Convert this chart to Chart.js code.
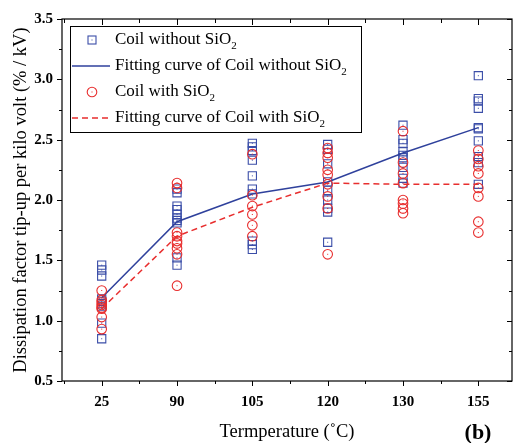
<!DOCTYPE html>
<html>
<head>
<meta charset="utf-8">
<script src="https://cdn.jsdelivr.net/npm/chart.js@4.4.0/dist/chart.umd.min.js"></script>
<style>
  html, body { margin: 0; padding: 0; background: #fff; overflow: hidden; }
  #wrap { width: 513px; height: 443px; }
</style>
</head>
<body>
<div id="wrap"><canvas id="chart"></canvas></div>
<script>
// categories (x positions 1..6)
const temps = ['25', '90', '105', '120', '130', '155'];

// measured points, one list per temperature
const withoutSiO2 = [
  [1.46, 1.42, 1.37, 1.18, 1.16, 1.14, 1.12, 0.98, 0.85],
  [2.09, 2.06, 1.95, 1.92, 1.88, 1.85, 1.83, 1.81, 1.52, 1.46],
  [2.47, 2.44, 2.41, 2.33, 2.20, 2.09, 2.05, 1.66, 1.63, 1.59],
  [2.46, 2.42, 2.30, 2.15, 2.08, 2.00, 1.93, 1.90, 1.65],
  [2.62, 2.50, 2.47, 2.40, 2.37, 2.35, 2.27, 2.18, 2.14],
  [3.03, 2.84, 2.82, 2.76, 2.60, 2.59, 2.49, 2.36, 2.31, 2.13]
];
const withSiO2 = [
  [1.25, 1.17, 1.15, 1.13, 1.11, 1.10, 1.03, 0.93],
  [2.14, 2.10, 1.73, 1.70, 1.66, 1.64, 1.60, 1.55, 1.29],
  [2.38, 2.04, 1.95, 1.88, 1.79, 1.70],
  [2.43, 2.39, 2.35, 2.25, 2.21, 2.13, 2.03, 1.93, 1.55],
  [2.57, 2.31, 2.22, 2.14, 2.00, 1.97, 1.93, 1.89],
  [2.41, 2.34, 2.28, 2.22, 2.10, 2.03, 1.82, 1.73]
];

// fitting curves
const fitWithout = [1.19, 1.82, 2.05, 2.15, 2.39, 2.60];
const fitWith = [1.10, 1.70, 1.94, 2.14, 2.13, 2.13];

const yTicks = [0.5, 1.0, 1.5, 2.0, 2.5, 3.0, 3.5];

const BLUE = '#3b4ea8';
const BLUE_LINE = '#2f419c';
const RED = '#e82e2e';
const SERIF = '"Liberation Serif", "Times New Roman", serif';

const toPoints = groups => groups.flatMap((vals, i) => vals.map(v => ({ x: i + 1, y: v })));
const toLine = vals => vals.map((v, i) => ({ x: i + 1, y: v }));

function drawSquare(ctx, x, y, color) {
  ctx.strokeStyle = color; ctx.lineWidth = 1.1;
  ctx.strokeRect(x - 4, y - 4, 8, 8);
  ctx.fillStyle = color; ctx.fillRect(x - 0.5, y - 0.5, 1, 1);
}
function drawCircle(ctx, x, y, color) {
  ctx.strokeStyle = color; ctx.lineWidth = 1.1;
  ctx.beginPath(); ctx.arc(x, y, 4.8, 0, Math.PI * 2); ctx.stroke();
  ctx.fillStyle = color; ctx.fillRect(x - 0.5, y - 0.5, 1, 1);
}

// centre dots of the open markers
const dotPlugin = {
  id: 'dots',
  afterDatasetsDraw(chart) {
    const ctx = chart.ctx;
    ctx.save();
    chart.data.datasets.forEach((ds, i) => {
      if (ds.type !== 'scatter') return;
      ctx.fillStyle = ds.borderColor;
      chart.getDatasetMeta(i).data.forEach(p => ctx.fillRect(p.x - 0.5, p.y - 0.5, 1, 1));
    });
    ctx.restore();
  }
};

// frame, minor ticks, legend box and "(b)"
const decorPlugin = {
  id: 'decor',
  afterDraw(chart) {
    const ctx = chart.ctx;
    const { left, right, top, bottom } = chart.chartArea;
    const xs = chart.scales.x, ys = chart.scales.y;
    ctx.save();
    ctx.strokeStyle = '#000';
    ctx.lineWidth = 1.2;
    ctx.strokeRect(left, top, right - left, bottom - top);

    ctx.lineWidth = 1;
    ctx.beginPath();
    for (let v = 0.5; v <= 6.5; v += 0.5) {
      const px = Math.round(xs.getPixelForValue(v)) + 0.5;
      if (px < left || px > right) continue;
      const major = Number.isInteger(v);
      ctx.moveTo(px, bottom); ctx.lineTo(px, bottom + (major ? 5 : 3));
      ctx.moveTo(px, top); ctx.lineTo(px, top + (major ? 6 : 4));
    }
    for (let v = 0.5; v <= 3.5001; v += 0.25) {
      const py = Math.round(ys.getPixelForValue(v)) + 0.5;
      const major = Math.abs(v * 2 - Math.round(v * 2)) < 1e-6;
      const len = major ? 5 : 3;
      ctx.moveTo(left, py); ctx.lineTo(left - len, py);
      ctx.moveTo(right, py); ctx.lineTo(right - len, py);
    }
    ctx.stroke();

    // legend
    const bx = 70.5, by = 26.5, bw = 291, bh = 106;
    ctx.fillStyle = '#fff';
    ctx.fillRect(bx, by, bw, bh);
    ctx.strokeStyle = '#000';
    ctx.lineWidth = 1;
    ctx.strokeRect(bx, by, bw, bh);

    const rows = chart.data.datasets.map(ds => ({ label: ds.label.replace(/2$/, ''), kind: ds.legendKind }));
    rows.forEach((r, i) => {
      const cy = 40 + i * 26;
      if (r.kind === 'square') drawSquare(ctx, 92, cy, BLUE);
      if (r.kind === 'circle') drawCircle(ctx, 92, cy, RED);
      if (r.kind === 'solid' || r.kind === 'dash') {
        ctx.beginPath();
        ctx.strokeStyle = r.kind === 'solid' ? BLUE_LINE : RED;
        ctx.lineWidth = 1.5;
        ctx.setLineDash(r.kind === 'dash' ? [6, 4] : []);
        ctx.moveTo(72, cy); ctx.lineTo(110, cy);
        ctx.stroke();
        ctx.setLineDash([]);
      }
      ctx.fillStyle = '#000';
      ctx.textBaseline = 'middle';
      ctx.textAlign = 'left';
      ctx.font = '17px ' + SERIF;
      ctx.fillText(r.label, 115, cy);
      const w = ctx.measureText(r.label).width;
      ctx.font = '11px ' + SERIF;
      ctx.fillText('2', 115 + w, cy + 6);
    });

    ctx.font = 'bold 22px ' + SERIF;
    ctx.textAlign = 'center';
    ctx.textBaseline = 'middle';
    ctx.fillStyle = '#000';
    ctx.fillText('(b)', 478, 433);
    ctx.restore();
  }
};

new Chart(document.getElementById('chart'), {
  type: 'scatter',
  data: {
    datasets: [
      {
        type: 'scatter', label: 'Coil without SiO2', legendKind: 'square', data: toPoints(withoutSiO2),
        pointStyle: 'rect', pointRadius: 5.8, borderColor: BLUE, backgroundColor: 'rgba(0,0,0,0)',
        borderWidth: 1.1, order: 4
      },
      {
        type: 'line', label: 'Fitting curve of Coil without SiO2', legendKind: 'solid', data: toLine(fitWithout),
        borderColor: BLUE_LINE, borderWidth: 1.5, pointRadius: 0, fill: false, tension: 0, order: 3
      },
      {
        type: 'scatter', label: 'Coil with SiO2', legendKind: 'circle', data: toPoints(withSiO2),
        pointStyle: 'circle', pointRadius: 4.8, borderColor: RED, backgroundColor: 'rgba(0,0,0,0)',
        borderWidth: 1.1, order: 2
      },
      {
        type: 'line', label: 'Fitting curve of Coil with SiO2', legendKind: 'dash', data: toLine(fitWith),
        borderColor: RED, borderWidth: 1.5, borderDash: [6, 4], pointRadius: 0, fill: false, tension: 0, order: 1
      }
    ]
  },
  options: {
    responsive: true,
    maintainAspectRatio: false,
    animation: false,
    layout: { autoPadding: false, padding: { top: 19, right: 1, left: 0, bottom: 0 } },
    plugins: { legend: { display: false }, tooltip: { enabled: false } },
    scales: {
      x: {
        type: 'linear', min: 0.473, max: 6.447,
        afterBuildTicks: s => { s.ticks = temps.map((t, i) => ({ value: i + 1 })); },
        afterFit: s => { s.height = 62; s.paddingLeft = 0; s.paddingRight = 0; },
        grid: { display: false, drawTicks: false },
        border: { display: false },
        ticks: {
          callback: v => temps[v - 1], padding: 12, color: '#000',
          font: { family: SERIF, size: 15, weight: 'bold' }, maxRotation: 0, autoSkip: false
        },
        title: {
          display: true, text: 'Termperature (˚C)', color: '#000',
          font: { family: SERIF, size: 18.5 }, padding: { top: 0, bottom: 0 }
        }
      },
      y: {
        min: 0.5, max: 3.5,
        afterBuildTicks: s => { s.ticks = yTicks.map(v => ({ value: v })); },
        afterFit: s => { s.width = 62; },
        grid: { display: false, drawTicks: false },
        border: { display: false },
        ticks: {
          callback: v => v.toFixed(1), padding: 9, color: '#000',
          font: { family: SERIF, size: 15, weight: 'bold' }
        },
        title: {
          display: true, text: 'Dissipation factor tip-up per kilo volt (% / kV)', color: '#000',
          font: { family: SERIF, size: 18.5 }, padding: { top: 10, bottom: 0 }
        }
      }
    }
  },
  plugins: [dotPlugin, decorPlugin]
});
</script>
</body>
</html>
